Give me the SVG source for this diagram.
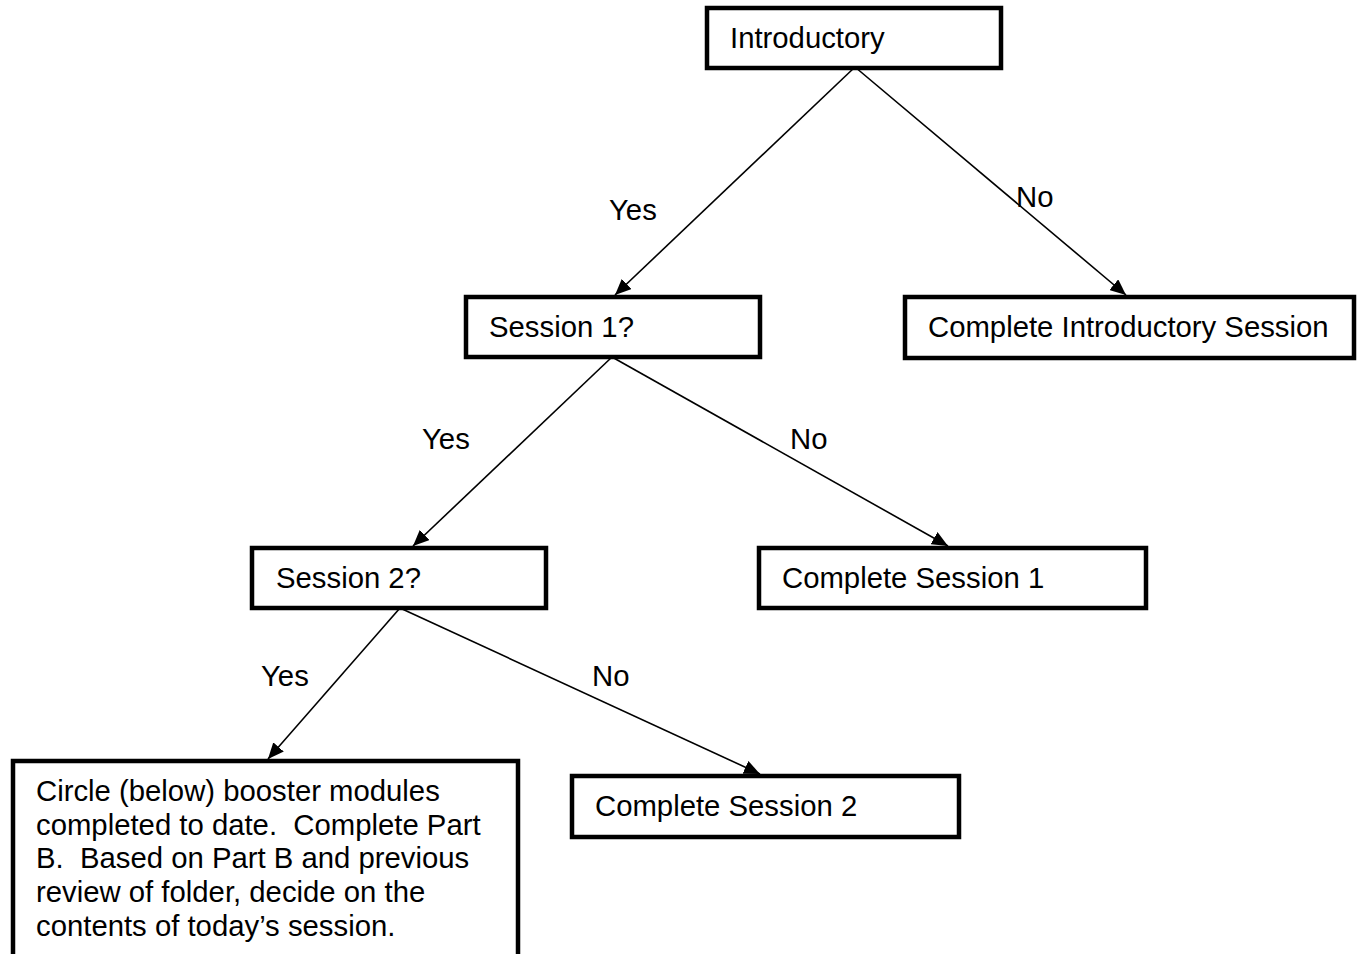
<svg xmlns="http://www.w3.org/2000/svg" width="1361" height="954" viewBox="0 0 1361 954">
<style>
.box{fill:#fff;stroke:#000;stroke-width:4.5}
.t{font-family:"Liberation Sans",Arial,sans-serif;font-size:29.3px;fill:#000;white-space:pre}
.c{stroke:#000;stroke-width:1.6;fill:none;marker-end:url(#ah)}
</style>
<defs>
<marker id="ah" viewBox="0 0 16 14" refX="16" refY="7" markerWidth="16" markerHeight="14" markerUnits="userSpaceOnUse" orient="auto">
<path d="M0,0 L16,7 L0,14 z" fill="#000"/>
</marker>
</defs>
<rect width="1361" height="954" fill="#fff"/>
<g id="introductory">
<rect class="box" x="707" y="8" width="294" height="60"/>
<text class="t" x="730" y="48">Introductory</text>
</g>
<g id="session1">
<rect class="box" x="466" y="297" width="294" height="60"/>
<text class="t" x="489" y="337">Session 1?</text>
</g>
<g id="complete-intro">
<rect class="box" x="905" y="297" width="449" height="61"/>
<text class="t" x="928" y="337">Complete Introductory Session</text>
</g>
<g id="session2">
<rect class="box" x="252" y="548" width="294" height="60"/>
<text class="t" x="276" y="588">Session 2?</text>
</g>
<g id="complete-s1">
<rect class="box" x="759" y="548" width="387" height="60"/>
<text class="t" x="782" y="588">Complete Session 1</text>
</g>
<g id="complete-s2">
<rect class="box" x="572" y="776" width="387" height="61"/>
<text class="t" x="595" y="816">Complete Session 2</text>
</g>
<g id="booster">
<rect class="box" x="13" y="761" width="505" height="200"/>
<text class="t" x="36" y="801" xml:space="preserve">Circle (below) booster modules</text>
<text class="t" x="36" y="835" xml:space="preserve">completed to date.  Complete Part</text>
<text class="t" x="36" y="868" xml:space="preserve">B.  Based on Part B and previous</text>
<text class="t" x="36" y="902" xml:space="preserve">review of folder, decide on the</text>
<text class="t" x="36" y="936" xml:space="preserve">contents of today’s session.</text>
</g>
<g id="connectors">
<line class="c" x1="855" y1="67" x2="615" y2="295"/>
<line class="c" x1="855" y1="67" x2="1126" y2="295"/>
<line class="c" x1="612" y1="357" x2="413" y2="546"/>
<line class="c" x1="612" y1="357" x2="948" y2="546"/>
<line class="c" x1="400" y1="608" x2="268" y2="759"/>
<line class="c" x1="400" y1="608" x2="760" y2="774"/>
<text class="t" x="609" y="220">Yes</text>
<text class="t" x="1016" y="207">No</text>
<text class="t" x="422" y="449">Yes</text>
<text class="t" x="790" y="449">No</text>
<text class="t" x="261" y="686">Yes</text>
<text class="t" x="592" y="686">No</text>
</g>
</svg>
